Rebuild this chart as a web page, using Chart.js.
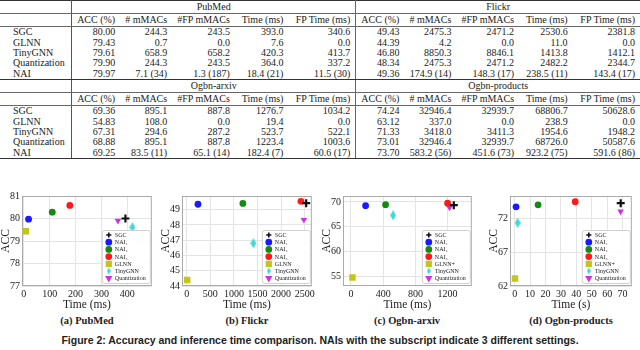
<!DOCTYPE html>
<html>
<head>
<meta charset="utf-8">
<script src="https://cdn.jsdelivr.net/npm/chart.js@4.4.0/dist/chart.umd.min.js"></script>
<style>
body { margin: 0; width: 640px; height: 350px; background: #fff; position: relative; overflow: hidden; font-family: "Liberation Serif", serif; color: #222; }
#tbl { position: absolute; left: 0; top: 0; border-collapse: collapse; table-layout: fixed; font-size: 10px; }
#tbl td { padding: 0 5px; text-align: right; white-space: nowrap; height: 10.4px; line-height: 10px; overflow: visible; }
#tbl td.lab { text-align: left; padding-left: 13px; border-right: 1px solid #555; }
#tbl td.mid { border-right: 1.6px solid #666; }
#tbl td.ds { text-align: center; }
#tbl tr.top td { border-top: 1.2px solid #333; }
#tbl tr.dsrow td { border-bottom: 0.8px solid #666; height: 12px; }
#tbl tr.head td { border-bottom: 0.8px solid #666; height: 12px; }
#tbl tr.end td { border-bottom: 1.2px solid #333; }
.box { position: absolute; }
.cap { position: absolute; font-family: "Liberation Serif", serif; font-weight: bold; font-size: 10.5px; text-align: center; white-space: nowrap; }
#figcap { position: absolute; left: 0; width: 640px; top: 334px; text-align: center; font-family: "Liberation Sans", sans-serif; font-weight: bold; font-size: 10.5px; white-space: nowrap; }
</style>
</head>
<body>
<table id="tbl"></table>

<div class="box" style="left:-1px;top:188px;width:159px;height:124px"><canvas id="cPub"></canvas></div>
<div class="box" style="left:159px;top:188px;width:159px;height:124px"><canvas id="cFli"></canvas></div>
<div class="box" style="left:320px;top:188px;width:158px;height:124px"><canvas id="cArx"></canvas></div>
<div class="box" style="left:487px;top:188px;width:151px;height:124px"><canvas id="cPro"></canvas></div>

<div class="cap" style="left:37px;width:100px;top:315px">(a) PubMed</div>
<div class="cap" style="left:197px;width:100px;top:315px">(b) Flickr</div>
<div class="cap" style="left:357px;width:100px;top:315px">(c) Ogbn-arxiv</div>
<div class="cap" style="left:516px;width:110px;top:315px">(d) Ogbn-products</div>
<div id="figcap">Figure 2: Accuracy and inference time comparison. NAIs with the subscript indicate 3 different settings.</div>

<script>
// ---- table data ----
const tableMethods = ['SGC', 'GLNN', 'TinyGNN', 'Quantization', 'NAI'];
const tableHeads = ['ACC (%)', '# mMACs', '#FP mMACs', 'Time (ms)', 'FP Time (ms)'];
const pubmedRows = [
	['80.00', '244.3', '243.5', '393.0', '340.6'],
	['79.43', '0.7', '0.0', '7.6', '0.0'],
	['79.61', '658.9', '658.2', '420.3', '413.7'],
	['79.90', '244.3', '243.5', '364.0', '337.2'],
	['79.97', '7.1 (34)', '1.3 (187)', '18.4 (21)', '11.5 (30)']
];
const flickrRows = [
	['49.43', '2475.3', '2471.2', '2530.6', '2381.8'],
	['44.39', '4.2', '0.0', '11.0', '0.0'],
	['46.80', '8850.3', '8846.1', '1413.8', '1412.1'],
	['48.34', '2475.3', '2471.2', '2482.2', '2344.7'],
	['49.36', '174.9 (14)', '148.3 (17)', '238.5 (11)', '143.4 (17)']
];
const arxivRows = [
	['69.36', '895.1', '887.8', '1276.7', '1034.2'],
	['54.83', '108.0', '0.0', '19.4', '0.0'],
	['67.31', '294.6', '287.2', '523.7', '522.1'],
	['68.88', '895.1', '887.8', '1223.4', '1003.6'],
	['69.25', '83.5 (11)', '65.1 (14)', '182.4 (7)', '60.6 (17)']
];
const productsRows = [
	['74.24', '32946.4', '32939.7', '68806.7', '50628.6'],
	['63.12', '337.0', '0.0', '238.9', '0.0'],
	['71.33', '3418.0', '3411.3', '1954.6', '1948.2'],
	['73.01', '32946.4', '32939.7', '68726.0', '50587.6'],
	['73.70', '583.2 (56)', '451.6 (73)', '923.2 (75)', '591.6 (86)']
];

// ---- chart data (order: SGC, NAI1, NAI2, NAI3, GLNN, TinyGNN, Quantization) ----
const pubmedTime = [393.0, 18.4, 110, 178, 7.6, 420.3, 364.0];
const pubmedAcc = [80.00, 79.97, 80.28, 80.58, 79.43, 79.61, 79.90];
const flickrTime = [2530.6, 238.5, 1190, 2420, 11.0, 1413.8, 2482.2];
const flickrAcc = [49.43, 49.36, 49.41, 49.55, 44.39, 46.80, 48.34];
const arxivTime = [1276.7, 182.4, 430, 1200, 19.4, 523.7, 1223.4];
const arxivAcc = [69.36, 69.25, 69.45, 69.75, 54.83, 67.31, 68.88];
const productsTime = [68.81, 0.92, 15.2, 39.3, 0.24, 1.95, 68.73];
const productsAcc = [74.24, 73.70, 74.00, 74.45, 63.12, 71.33, 73.01];

const labelsA = ['SGC', 'NAI\u2081', 'NAI\u2082', 'NAI\u2083', 'GLNN', 'TinyGNN', 'Quantization'];
const labelsB = ['SGC', 'NAI\u2081', 'NAI\u2082', 'NAI\u2083', 'GLNN+', 'TinyGNN', 'Quantization'];

const pubmedXTicks = [0, 100, 200, 300, 400];
const pubmedYTicks = [77, 78, 79, 80, 81];
const flickrXTicks = [0, 500, 1000, 1500, 2000, 2500];
const flickrYTicks = [44, 45, 46, 47, 48, 49];
const arxivXTicks = [0, 400, 800, 1200];
const arxivYTicks = [55, 60, 65, 70];
const productsXTicks = [0, 10, 20, 30, 40, 50, 60, 70];
const productsYTicks = [62, 67, 72];

// ---- build table ----
function buildTable() {
	const t = document.getElementById('tbl');
	let html = '<colgroup><col style="width:72px">';
	const w = [44, 52, 62, 54, 68];
	for (let k = 0; k < 2; k++) w.forEach(v => html += `<col style="width:${v}px">`);
	html += '</colgroup>';
	function block(nameA, nameB, rowsA, rowsB, first) {
		let s = `<tr class="dsrow${first ? ' top' : ''}"><td class="lab"></td><td class="ds mid" colspan="5">${nameA}</td><td class="ds" colspan="5">${nameB}</td></tr>`;
		s += '<tr class="head"><td class="lab"></td>';
		tableHeads.forEach((h, i) => s += `<td${i == 4 ? ' class="mid"' : ''}>${h}</td>`);
		tableHeads.forEach(h => s += `<td>${h}</td>`);
		s += '</tr>';
		tableMethods.forEach((m, r) => {
			s += `<tr${r == 4 ? ' class="end"' : ''}><td class="lab">${m}</td>`;
			rowsA[r].forEach((v, i) => s += `<td${i == 4 ? ' class="mid"' : ''}>${v}</td>`);
			rowsB[r].forEach(v => s += `<td>${v}</td>`);
			s += '</tr>';
		});
		return s;
	}
	html += block('PubMed', 'Flickr', pubmedRows, flickrRows, true);
	html += block('Ogbn-arxiv', 'Ogbn-products', arxivRows, productsRows, false);
	t.innerHTML = html;
}
buildTable();

// ---- markers ----
function thinDiamond(color, w, h) {
	const c = document.createElement('canvas');
	c.width = w; c.height = h;
	const g = c.getContext('2d');
	g.fillStyle = color;
	g.beginPath();
	g.moveTo(w / 2, 0); g.lineTo(w, h / 2); g.lineTo(w / 2, h); g.lineTo(0, h / 2);
	g.closePath(); g.fill();
	return c;
}
const colors = ['#111111', '#1a1aff', '#138a13', '#ff1a1a', '#c4c41c', '#3fd8d8', '#cc33dd'];
const diamondBig = thinDiamond(colors[5], 6, 10);
const diamondSmall = thinDiamond(colors[5], 4, 7);
const styles = [
	{ pointStyle: 'cross', radius: 4, borderWidth: 2.2, rotation: 0 },
	{ pointStyle: 'circle', radius: 3.4, borderWidth: 0, rotation: 0 },
	{ pointStyle: 'circle', radius: 3.4, borderWidth: 0, rotation: 0 },
	{ pointStyle: 'circle', radius: 3.4, borderWidth: 0, rotation: 0 },
	{ pointStyle: 'rect', radius: 4.6, borderWidth: 0, rotation: 0 },
	{ pointStyle: diamondBig, radius: 4, borderWidth: 0, rotation: 0 },
	{ pointStyle: 'triangle', radius: 3.8, borderWidth: 0, rotation: 180 }
];

Chart.defaults.font.family = '"Liberation Serif", serif';
Chart.defaults.color = '#222';

// frame behind points, legend box on top
const frameLegend = {
	id: 'frameLegend',
	beforeDatasetsDraw(chart) {
		const a = chart.chartArea, ctx = chart.ctx;
		ctx.save();
		ctx.strokeStyle = '#aaaaaa';
		ctx.lineWidth = 1;
		ctx.strokeRect(a.left + 0.5, a.top + 0.5, a.right - a.left - 1, a.bottom - a.top - 1);
		ctx.restore();
	},
	afterDatasetsDraw(chart) {
		const a = chart.chartArea, ctx = chart.ctx;
		const bw = 48, bh = 53;
		const bx = a.right - bw - 2, by = a.bottom - bh - 3;
		ctx.save();
		ctx.fillStyle = 'rgba(255,255,255,0.92)';
		ctx.strokeStyle = '#d0d0d0';
		ctx.lineWidth = 1;
		ctx.beginPath();
		ctx.roundRect(bx + 0.5, by + 0.5, bw, bh, 2);
		ctx.fill(); ctx.stroke();
		ctx.font = '6px "Liberation Serif", serif';
		ctx.textBaseline = 'middle';
		chart.data.datasets.forEach((ds, i) => {
			const y = by + 5 + i * 7.2, x = bx + 7;
			const st = styles[i];
			ctx.fillStyle = ds.backgroundColor;
			ctx.strokeStyle = ds.borderColor;
			if (st.pointStyle instanceof HTMLCanvasElement) {
				ctx.drawImage(diamondSmall, x - 2, y - 3.5);
			} else {
				ctx.lineWidth = st.pointStyle == 'cross' ? 1.6 : 0;
				Chart.helpers.drawPoint(ctx, {
					pointStyle: st.pointStyle, rotation: st.rotation,
					radius: st.pointStyle == 'rect' ? 3.3 : 2.6, borderWidth: ctx.lineWidth
				}, x, y);
			}
			ctx.fillStyle = '#222';
			ctx.fillText(ds.label, x + 6, y + 0.5);
		});
		ctx.restore();
	}
};

function makeChart(id, times, accs, labels, xr, yr, xt, yt, xTitle) {
	const datasets = labels.map((lab, i) => ({
		label: lab,
		data: [{ x: times[i], y: accs[i] }],
		backgroundColor: colors[i],
		borderColor: colors[i],
		pointStyle: styles[i].pointStyle,
		pointRadius: styles[i].radius,
		pointBorderWidth: styles[i].borderWidth,
		pointRotation: styles[i].rotation
	}));
	return new Chart(document.getElementById(id), {
		type: 'scatter',
		data: { datasets },
		options: {
			responsive: true,
			maintainAspectRatio: false,
			animation: false,
			layout: { padding: { top: 7, right: 5, left: 0, bottom: 0 } },
			plugins: { legend: { display: false }, tooltip: { enabled: false } },
			scales: {
				x: {
					type: 'linear', min: xr[0], max: xr[1],
					afterBuildTicks: s => { s.ticks = xt.map(v => ({ value: v })); },
					afterFit: s => { s.height = 26; },
					border: { display: false },
					grid: { color: '#e4e4e4', drawTicks: false },
					ticks: { font: { size: 10 }, padding: 2, maxRotation: 0, autoSkip: false, callback: v => String(v) },
					title: { display: true, text: xTitle, font: { size: 11.5 }, padding: 0 }
				},
				y: {
					type: 'linear', min: yr[0], max: yr[1],
					afterBuildTicks: s => { s.ticks = yt.map(v => ({ value: v })); },
					afterFit: s => { s.width = 23; },
					border: { display: false },
					grid: { color: '#e4e4e4', drawTicks: false },
					ticks: { font: { size: 10 }, padding: 2, autoSkip: false, callback: v => String(v) },
					title: { display: true, text: 'ACC', font: { size: 11.5 }, padding: 0 }
				}
			}
		},
		plugins: [frameLegend]
	});
}

makeChart('cPub', pubmedTime, pubmedAcc, labelsA, [-7, 495], [77, 81], pubmedXTicks, pubmedYTicks, 'Time (ms)');
makeChart('cFli', flickrTime, flickrAcc, labelsA, [-100, 2650], [44, 49.9], flickrXTicks, flickrYTicks, 'Time (ms)');
makeChart('cArx', arxivTime, arxivAcc, labelsB, [-98, 1500], [53.1, 71.2], arxivXTicks, arxivYTicks, 'Time (ms)');
makeChart('cPro', productsTime, productsAcc, labelsB, [-3, 76], [62, 75.3], productsXTicks, productsYTicks, 'Time (s)');
</script>
</body>
</html>
